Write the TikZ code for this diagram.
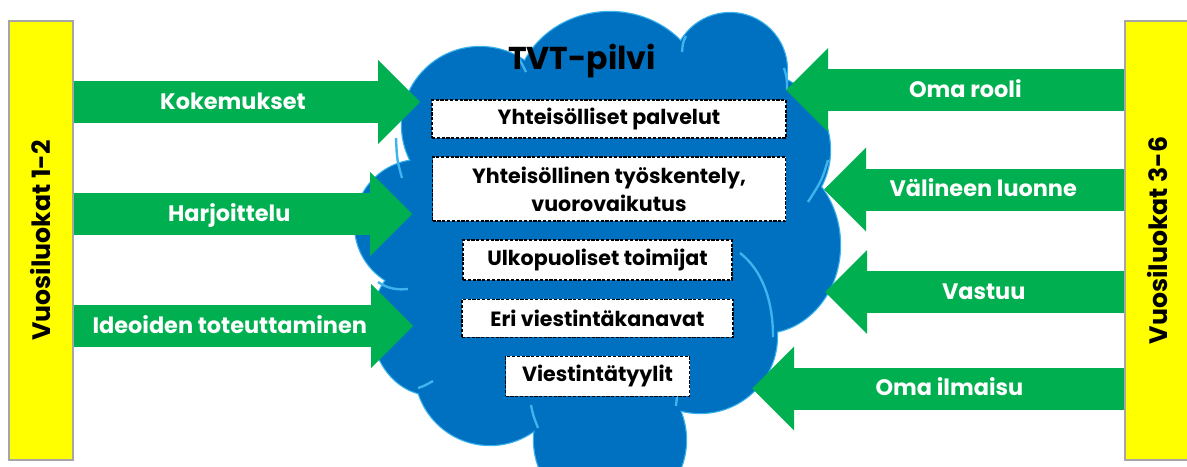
\documentclass[tikz,border=0pt]{standalone}
\usepackage{fontspec}
\setmainfont{Poppins}
\usetikzlibrary{arrows.meta, positioning}

\definecolor{barYellow}{HTML}{FFFF00}
\definecolor{barEdge}{HTML}{A6A6A6}
\definecolor{flowGreen}{HTML}{00B050}
\definecolor{cloudBlue}{HTML}{0070C0}
\definecolor{cloudEdge}{HTML}{3CB4EE}

\begin{document}
\begin{tikzpicture}[
			x=0.5pt, y=-0.5pt,
			node distance=8.75pt,
			bar/.style={draw=barEdge, fill=barYellow, line width=0.6pt, minimum width=32pt, minimum height=219.5pt, inner sep=0pt, font=\bfseries\fontsize{12.6}{15}\selectfont},
			topic/.style={draw, dash pattern=on 1.6pt off 0.8pt, line width=0.8pt, fill=white, inner sep=0pt, align=center, font=\bfseries\fontsize{10.3}{14}\selectfont},
			flow/.style={flowGreen, line width=21pt, -{Triangle[width=42pt, length=21pt, line width=0pt]}},
			flowtext/.style={white, inner sep=0pt, text height=0.7em, text depth=0pt, font=\bfseries\fontsize{11.2}{14}\selectfont},
			puffline/.style={draw=cloudEdge, line width=1.2pt}
			]
			\useasboundingbox (0,0) rectangle (1187,466);
			
			% Cloud
			\foreach \cx/\cy/\rx/\ry in {480/125/78/78, 610/100/95/88, 730/70/57/57, 752/150/78/78, 763/245/77/88,
				700/336/77/77, 610/440/76/76, 490/370/75/75, 432/325/60/70, 420/225/65/65, 600/260/170/170}
				\draw[puffline] (\cx,\cy) ellipse [x radius=\rx, y radius=\ry];
			\foreach \cx/\cy/\rx/\ry in {480/125/78/78, 610/100/95/88, 730/70/57/57, 752/150/78/78, 763/245/77/88,
				700/336/77/77, 610/440/76/76, 490/370/75/75, 432/325/60/70, 420/225/65/65, 600/260/170/170}
				\fill[cloudBlue] (\cx,\cy) ellipse [x radius=\rx, y radius=\ry];
			\draw[puffline] (396,138) .. controls (397,160) .. (402,178);
			\draw[puffline] (378,282) .. controls (388,289) and (398,290) .. (408,289);
			\draw[puffline] (418,388) .. controls (424,386) .. (433,381);
			\draw[puffline] (531,405) .. controls (533,415) .. (538,428);
			\draw[puffline] (679,388) .. controls (677,396) .. (676,406);
			\draw[puffline] (740,253) .. controls (762,270) and (773,300) .. (773,337);
			\draw[puffline] (828,160) .. controls (822,180) .. (808,202);
			\draw[puffline] (784,68) .. controls (787,78) .. (787,90);
			\draw[puffline] (686,36) .. controls (683,42) .. (682,52);
			\draw[puffline] (517,55) .. controls (521,62) .. (526,72);
			
			% Nodes
			\node (title) [inner sep=0pt, text height=0.7em, text depth=0pt, font=\bfseries\fontsize{15.8}{18}\selectfont] at (582,62.5) {TVT-pilvi};
			\node (b1) [topic, minimum width=177pt, minimum height=19pt] at (609,119) {Yhteisölliset palvelut};
			\node (b2) [topic, minimum width=176.5pt, minimum height=32pt, below=of b1] {Yhteisöllinen työskentely,\\vuorovaikutus};
			\node (b3) [topic, minimum width=134.5pt, minimum height=20pt, below=of b2, xshift=-5.75pt] {Ulkopuoliset toimijat};
			\node (b4) [topic, minimum width=135.5pt, minimum height=19pt, below=of b3] {Eri viestintäkanavat};
			\node (b5) [topic, minimum width=92pt, minimum height=20pt, below=of b4] {Viestintätyylit};
			
			\node (lbar) [bar] at (41,240.5) {\rotatebox{90}{Vuosiluokat 1-2}};
			\node (rbar) [bar] at (1157,240.5) {\rotatebox{90}{Vuosiluokat 3-6}};
			
			\coordinate (k1) at (420,102);
			\coordinate (k2) at (412,214);
			\coordinate (k3) at (413,326);
			\coordinate (r1) at (786,90);
			\coordinate (r2) at (824,189.5);
			\coordinate (r3) at (825,292);
			\coordinate (r4) at (752,388.5);
			
			% Connections
			\draw [flow] (lbar.east |- k1) -- (k1) node[flowtext, pos=0.46] {Kokemukset};
			\draw [flow] (lbar.east |- k2) -- (k2) node[flowtext, pos=0.46] {Harjoittelu};
			\draw [flow] (lbar.east |- k3) -- (k3) node[flowtext, pos=0.46] {Ideoiden toteuttaminen};
			\draw [flow] (rbar.west |- r1) -- (r1) node[flowtext, pos=0.47] {Oma rooli};
			\draw [flow] (rbar.west |- r2) -- (r2) node[flowtext, pos=0.47] {Välineen luonne};
			\draw [flow] (rbar.west |- r3) -- (r3) node[flowtext, pos=0.47] {Vastuu};
			\draw [flow] (rbar.west |- r4) -- (r4) node[flowtext, pos=0.47] {Oma ilmaisu};
			
		\end{tikzpicture}
\end{document}
